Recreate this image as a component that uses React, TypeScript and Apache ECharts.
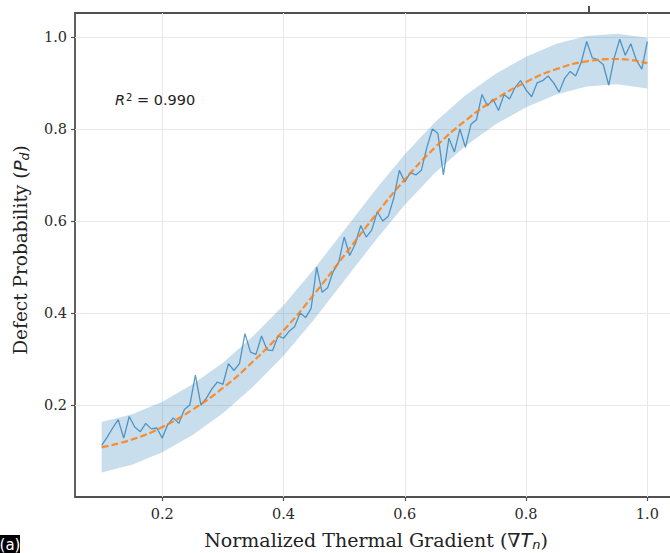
import React, { useEffect, useRef } from "react";
import * as echarts from "echarts";

const X_TICKS = [0.2, 0.4, 0.6, 0.8, 1.0];
const Y_TICKS = [0.2, 0.4, 0.6, 0.8, 1.0];

const FIT_X = [0.1, 0.15, 0.2, 0.25, 0.3, 0.35, 0.4, 0.45, 0.5, 0.55, 0.6, 0.65, 0.7, 0.75, 0.8, 0.85, 0.9, 0.95, 1.0];
const FIT_Y = [0.108, 0.125, 0.152, 0.19, 0.237, 0.295, 0.362, 0.44, 0.525, 0.61, 0.69, 0.76, 0.818, 0.865, 0.902, 0.93, 0.947, 0.952, 0.943];
const BAND_LO = [0.053, 0.07, 0.097, 0.135, 0.182, 0.24, 0.307, 0.385, 0.47, 0.555, 0.635, 0.705, 0.763, 0.81, 0.847, 0.875, 0.892, 0.897, 0.888];
const BAND_HI = [0.163, 0.18, 0.207, 0.245, 0.292, 0.35, 0.417, 0.495, 0.58, 0.665, 0.745, 0.815, 0.873, 0.92, 0.957, 0.985, 1.002, 1.007, 0.998];

const OBS_Y = [
  0.112, 0.13, 0.15, 0.168, 0.128, 0.175, 0.152, 0.142, 0.16, 0.148,
  0.15, 0.128, 0.158, 0.172, 0.16, 0.19, 0.2, 0.265, 0.2, 0.215,
  0.235, 0.25, 0.245, 0.29, 0.275, 0.29, 0.355, 0.315, 0.31, 0.35,
  0.32, 0.318, 0.35, 0.345, 0.36, 0.37, 0.4, 0.39, 0.41, 0.5,
  0.445, 0.455, 0.49, 0.51, 0.565, 0.525, 0.55, 0.59, 0.565, 0.58,
  0.62, 0.6, 0.61, 0.65, 0.71, 0.685, 0.705, 0.7, 0.71, 0.76,
  0.8, 0.79, 0.7, 0.78, 0.75, 0.8, 0.76, 0.81, 0.82, 0.875,
  0.85, 0.865, 0.84, 0.875, 0.865, 0.89, 0.905, 0.885, 0.87, 0.9,
  0.905, 0.915, 0.9, 0.88, 0.91, 0.925, 0.915, 0.945, 0.99, 0.955,
  0.95, 0.94, 0.895, 0.955, 0.995, 0.96, 0.985, 0.95, 0.93, 0.99,
];
const OBS_X0 = 0.1;
const OBS_X1 = 1.0;

const R2_TEXT = "0.990";

export default function App() {
  const ref = useRef<HTMLDivElement>(null);
  useEffect(() => {
    if (!ref.current) return;
    const chart = echarts.init(ref.current, null, { renderer: "svg" });
    const n = OBS_Y.length;
    const obs = OBS_Y.map((v, i) => [OBS_X0 + (i * (OBS_X1 - OBS_X0)) / (n - 1), v]);
    const fit = FIT_X.map((x, i) => [x, FIT_Y[i]]);
    const serif = "'DejaVu Serif', serif";
    const sans = "'DejaVu Sans', sans-serif";
    const option: any = {
      animation: false,
      backgroundColor: "#ffffff",
      grid: {
        left: 75,
        top: 13,
        right: 26,
        bottom: 56,
        show: true,
        borderColor: "#505050",
        borderWidth: 1.8,
        backgroundColor: "transparent",
      },
      xAxis: {
        type: "value",
        min: 0.056,
        max: 1.044,
        axisLine: { show: false },
        axisTick: {
          show: true,
          length: 4,
          customValues: X_TICKS,
          lineStyle: { color: "#505050", width: 1.2 },
        },
        axisLabel: {
          customValues: X_TICKS,
          formatter: (v: number) => v.toFixed(1),
          fontFamily: serif,
          fontSize: 14.5,
          color: "#2a2a2a",
          margin: 9,
        },
        splitLine: { show: true, lineStyle: { color: "#e8e8e8", width: 1 } },
      },
      yAxis: {
        type: "value",
        min: 0,
        max: 1.052,
        axisLine: { show: false },
        axisTick: {
          show: true,
          length: 4,
          customValues: Y_TICKS,
          lineStyle: { color: "#505050", width: 1.2 },
        },
        axisLabel: {
          customValues: Y_TICKS,
          formatter: (v: number) => v.toFixed(1),
          fontFamily: serif,
          fontSize: 14.5,
          color: "#2a2a2a",
          margin: 8,
        },
        splitLine: { show: true, lineStyle: { color: "#e8e8e8", width: 1 } },
      },
      series: [
        {
          type: "custom",
          name: "band",
          data: [0],
          z: 1,
          renderItem: (params: any, api: any) => {
            const pts: number[][] = [];
            FIT_X.forEach((x, i) => pts.push(api.coord([x, BAND_HI[i]])));
            for (let i = FIT_X.length - 1; i >= 0; i--) pts.push(api.coord([FIT_X[i], BAND_LO[i]]));
            return {
              type: "polygon",
              shape: { points: pts },
              style: { fill: "rgba(31,119,180,0.24)", stroke: "none" },
            };
          },
        },
        {
          type: "line",
          name: "observed",
          data: obs,
          z: 2,
          showSymbol: false,
          symbol: "none",
          lineStyle: { color: "#1f77b4", width: 1.3, opacity: 0.72 },
        },
        {
          type: "line",
          name: "fit",
          data: fit,
          z: 3,
          smooth: true,
          showSymbol: false,
          symbol: "none",
          lineStyle: { color: "#ff7f0e", width: 2.2, type: [7, 3], opacity: 0.85 },
        },
      ],
      graphic: [
        {
          type: "text",
          x: 115,
          y: 100,
          style: {
            text: "{i|R}{s|2}{n| = " + R2_TEXT + "}",
            textVerticalAlign: "middle",
            rich: {
              i: { fontFamily: sans, fontStyle: "italic", fontSize: 14.5, fill: "#222" },
              s: { fontFamily: sans, fontSize: 10, fill: "#222", verticalAlign: "top", padding: [0, 0, 6, 1] },
              n: { fontFamily: sans, fontSize: 14.5, fill: "#222" },
            },
          },
        },
        {
          type: "text",
          x: 376,
          y: 540,
          style: {
            text: "{n|Normalized Thermal Gradient (∇}{i|T}{s|n}{n|)}",
            textAlign: "center",
            textVerticalAlign: "middle",
            rich: {
              n: { fontFamily: serif, fontSize: 19, fill: "#222" },
              i: { fontFamily: sans, fontStyle: "italic", fontSize: 19, fill: "#222" },
              s: { fontFamily: sans, fontStyle: "italic", fontSize: 13, fill: "#222", padding: [8, 0, 0, 0] },
            },
          },
        },
        {
          type: "text",
          x: 20,
          y: 250,
          rotation: Math.PI / 2,
          style: {
            text: "{n|Defect Probability (}{i|P}{s|d}{n|)}",
            textAlign: "center",
            textVerticalAlign: "middle",
            rich: {
              n: { fontFamily: serif, fontSize: 18.5, fill: "#222" },
              i: { fontFamily: sans, fontStyle: "italic", fontSize: 18.5, fill: "#222" },
              s: { fontFamily: sans, fontStyle: "italic", fontSize: 12.5, fill: "#222", padding: [8, 0, 0, 0] },
            },
          },
        },
        {
          type: "rect",
          shape: { x: 0, y: 535, width: 20, height: 18 },
          style: { fill: "#000" },
        },
        {
          type: "text",
          x: 10,
          y: 545,
          style: {
            text: "(a)",
            fill: "#fff",
            fontFamily: sans,
            fontSize: 15,
            textAlign: "center",
            textVerticalAlign: "middle",
          },
        },
        {
          type: "line",
          shape: { x1: 589, y1: 6, x2: 589, y2: 13 },
          style: { stroke: "#505050", lineWidth: 2 },
        },
      ],
    };
    chart.setOption(option);
    return () => chart.dispose();
  }, []);
  return (
    <div style={{ position: "fixed", left: 0, top: 0, width: 670, height: 553, overflow: "hidden", background: "#fff" }}>
      <div ref={ref} style={{ position: "absolute", left: 0, top: 0, width: 700, height: 553 }} />
    </div>
  );
}
